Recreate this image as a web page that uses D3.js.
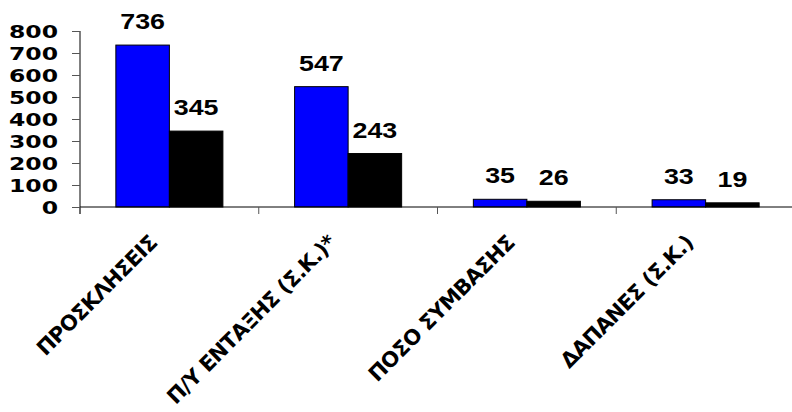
<!DOCTYPE html>
<html>
<head>
<meta charset="utf-8">
<script src="https://cdn.jsdelivr.net/npm/d3@7"></script>
<style>
html, body { margin: 0; padding: 0; background: #fff; }
svg { display: block; }
</style>
</head>
<body>
<svg id="chart" width="792" height="412"></svg>
<script>
const categories = ["ΠΡΟΣΚΛΗΣΕΙΣ", "Π/Υ ΕΝΤΑΞΗΣ (Σ.Κ.)*", "ΠΟΣΟ ΣΥΜΒΑΣΗΣ", "ΔΑΠΑΝΕΣ (Σ.Κ.)"];
const seriesNames = ["Σειρά 1", "Σειρά 2"];
const series1 = [736, 547, 35, 33];
const series2 = [345, 243, 26, 19];
const yTicks = [0, 100, 200, 300, 400, 500, 600, 700, 800];
const colors = ["#0000FF", "#000000"];

(function () {
const svg = d3.select("#chart");
const mLeft = 80, mRight = 795, mTop = 31, mBottom = 207;
const stretch = 1.27;

const x = d3.scaleBand().domain(categories).range([mLeft, mRight]).paddingInner(0).paddingOuter(0);
const xs = d3.scaleBand().domain(seriesNames).range([0, x.bandwidth()]).paddingInner(0).paddingOuter(0.67);
const y = d3.scaleLinear().domain([0, 800]).range([mBottom, mTop]);

const data = categories.map((c, i) => ({ cat: c, values: [series1[i], series2[i]] }));

// bars
const groups = svg.append("g").selectAll("g").data(data).join("g")
  .attr("transform", d => `translate(${x(d.cat)},0)`);
groups.selectAll("rect").data(d => d.values.map((v, k) => ({ v, k, name: seriesNames[k] })))
  .join("rect")
  .attr("x", d => xs(d.name))
  .attr("y", d => y(d.v))
  .attr("width", xs.bandwidth())
  .attr("height", d => y(0) - y(d.v))
  .attr("fill", d => colors[d.k])
  .attr("stroke", "#000")
  .attr("stroke-width", 1);

// value labels
groups.selectAll("text").data(d => d.values.map((v, k) => ({ v, k, name: seriesNames[k] })))
  .join("text")
  .attr("transform", d => `translate(${xs(d.name) + xs.bandwidth() / 2},${y(d.v) - 16}) scale(1.22,1)`)
  .attr("text-anchor", "middle")
  .attr("font-family", "Liberation Sans, Arial, sans-serif")
  .attr("font-weight", "bold")
  .attr("font-size", 22)
  .attr("fill", "#000")
  .text(d => d.v);

// y axis
const yAxisG = svg.append("g").attr("transform", `translate(${mLeft},0)`)
  .call(d3.axisLeft(y).tickValues(yTicks).tickSize(8).tickSizeOuter(0).tickFormat(d3.format("d")));
yAxisG.select(".domain").attr("stroke", "#000").attr("d", `M0,${mTop}V${mBottom + 7}`);
yAxisG.selectAll(".tick line").attr("stroke", "#555");
yAxisG.selectAll(".tick text")
  .attr("x", null)
  .attr("dy", null)
  .attr("transform", `translate(-22,0) scale(${stretch},1)`)
  .attr("dominant-baseline", "central")
  .attr("text-anchor", "end")
  .attr("font-family", "DejaVu Sans, Verdana, sans-serif")
  .attr("font-weight", "bold")
  .attr("font-size", 18.5)
  .attr("fill", "#000");

// x axis
const xAxisG = svg.append("g").attr("transform", `translate(0,${mBottom})`);
xAxisG.append("line").attr("x1", mLeft).attr("x2", mRight).attr("y1", 0).attr("y2", 0).attr("stroke", "#000");
const boundaries = categories.map(c => x(c)).concat([x(categories[categories.length - 1]) + x.bandwidth()]);
xAxisG.selectAll("line.tk").data(boundaries).join("line").attr("class", "tk")
  .attr("x1", d => d).attr("x2", d => d).attr("y1", 0).attr("y2", 7).attr("stroke", "#555");

// category labels
svg.append("g").selectAll("text").data(categories).join("text")
  .attr("transform", d => `translate(${x(d) + x.bandwidth() / 2 - 11},${mBottom + 37}) rotate(-45)`)
  .attr("text-anchor", "end")
  .attr("font-family", "DejaVu Sans, Verdana, sans-serif")
  .attr("font-weight", "bold")
  .attr("font-size", 21)
  .attr("letter-spacing", -0.6)
  .attr("fill", "#000")
  .text(d => d);
})();
</script>
</body>
</html>
